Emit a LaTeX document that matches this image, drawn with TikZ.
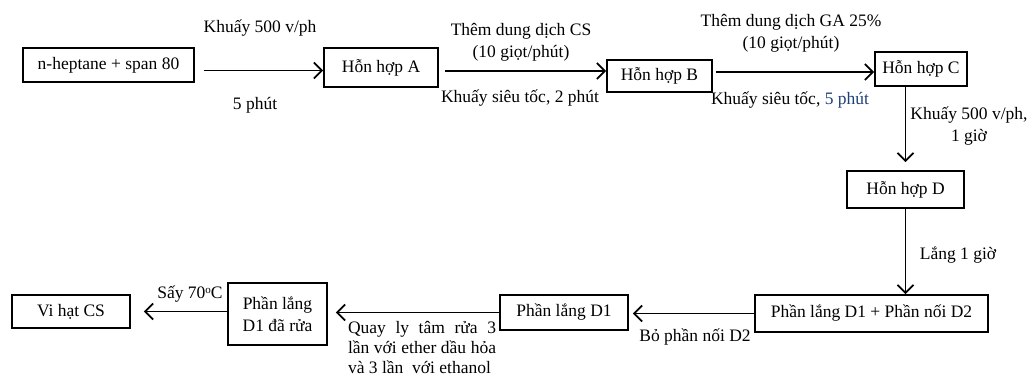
\documentclass[tikz,border=0pt]{standalone}
\usepackage{fontspec}
\setmainfont{Liberation Serif}
\usetikzlibrary{arrows.meta}
\definecolor{navy}{HTML}{1F3F7A}
\begin{document}
\begin{tikzpicture}[x=1pt,y=-1pt,
  every node/.style={font=\fontsize{17.5}{22}\selectfont, inner sep=0pt},
  box/.style={draw, line width=1.9pt, align=center},
  lbl/.style={align=center},
  arr/.style={line width=1.7pt, -{Straight Barb[length=8pt,width=16pt]}}]
\useasboundingbox (0,0) rectangle (1027,376);
% boxes
\node[box, minimum width=171pt, minimum height=34pt] (n1) at (108.5,65) {n-heptane + span 80};
\node[box, minimum width=114pt, minimum height=39pt] (nA) at (381,67.5) {Hỗn hợp A};
\node[box, minimum width=105pt, minimum height=32pt] (nB) at (659.5,76) {Hỗn hợp B};
\node[box, minimum width=92pt, minimum height=34pt] (nC) at (921,69) {Hỗn hợp C};
\node[box, minimum width=117pt, minimum height=37pt] (nD) at (905.5,189.5) {Hỗn hợp D};
\node[box, minimum width=233pt, minimum height=37pt] (nE) at (871.5,313.5) {Phần lắng D1 + Phần nối D2};
\node[box, minimum width=128pt, minimum height=35pt] (nF) at (564,312.5) {Phần lắng D1};
\node[box, minimum width=99pt, minimum height=62pt] (nG) at (277.5,314) {Phần lắng\\D1 đã rửa};
\node[box, minimum width=118pt, minimum height=33pt] (nH) at (71,311.5) {Vi hạt CS};
% connectors
\draw[arr] ([xshift=9pt,yshift=-3pt]n1.east |- nA.west) -- ([yshift=-3pt]nA.west);
\draw[arr] ([xshift=6pt,yshift=-3.5pt]nA.east) -- ([yshift=-3.5pt]nA.east -| nB.west);
\draw[arr] ([xshift=3pt,yshift=-3pt]nB.east |- nC.west) -- ([yshift=-3pt]nC.west);
\draw[arr] (nD.north |- nC.south) -- ([yshift=8pt]nD.north);
\draw[arr] (nD.south) -- (nD.south |- nE.north);
\draw[arr] (nE.west) -- ([xshift=4pt]nE.west -| nF.east);
\draw[arr] (nF.west) -- ([xshift=8pt]nF.west -| nG.east);
\draw[arr] (nG.west |- nH.east) -- ([xshift=13pt]nH.east);
% labels
\node[lbl] (l1) at (260,28) {Khuấy 500 v/ph};
\node[lbl] (l2) at (255,105) {5 phút};
\node[lbl] (l3) at (521,42) {Thêm dung dịch CS\\(10 giọt/phút)};
\node[lbl] (l4) at (520,98) {Khuấy siêu tốc, 2 phút};
\node[lbl] (l5) at (791,33) {Thêm dung dịch GA 25\%\\(10 giọt/phút)};
\node[lbl] (l6) at (790,100) {Khuấy siêu tốc, {\color{navy}5 phút}};
\node[lbl] (l7) at (969,126) {Khuấy 500 v/ph,\\1 giờ};
\node[lbl] (l8) at (958,255) {Lắng 1 giờ};
\node[lbl] (l9) at (695,337) {Bỏ phần nối D2};
\node[align=left, font=\fontsize{17.5}{20}\selectfont] (l10) at (422,347)
  {\makebox[148pt][s]{Quay ly tâm rửa 3}\\\makebox[148pt][s]{lần với ether dầu hỏa}\\và 3 lần\ \ với ethanol};
\node[lbl] (l11) at (190,294) {Sấy 70{\fontsize{11}{11}\selectfont\raisebox{5pt}{o}}C};
\end{tikzpicture}
\end{document}
